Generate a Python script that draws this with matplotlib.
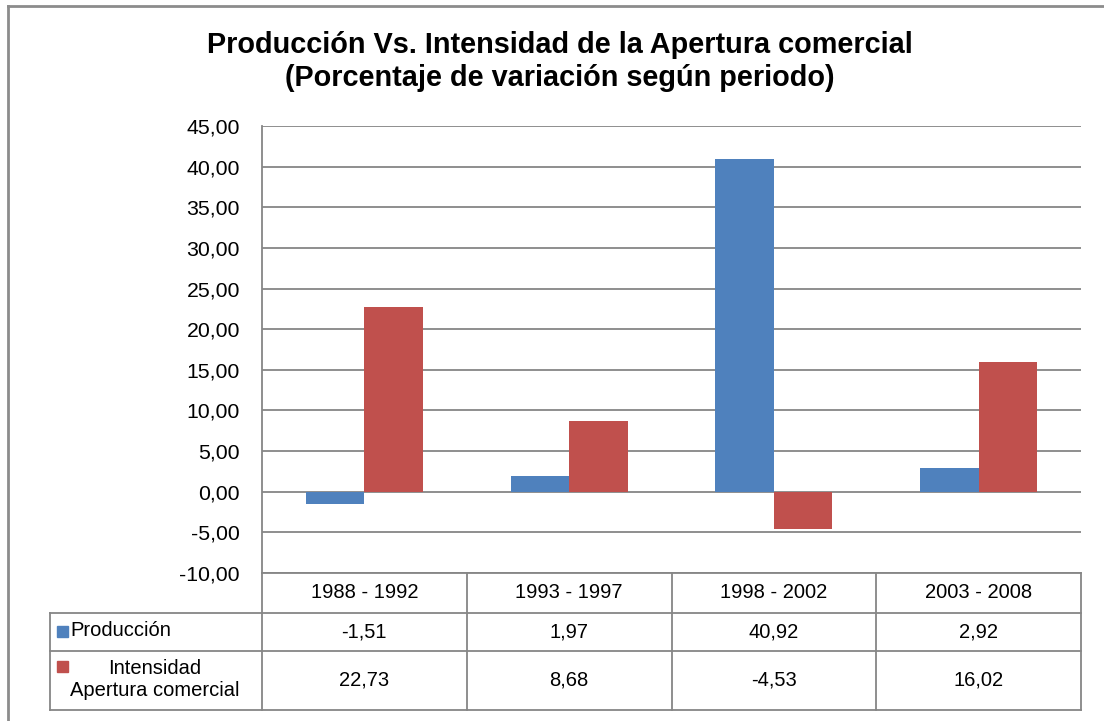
import matplotlib.pyplot as plt
from matplotlib.lines import Line2D
from matplotlib.patches import Rectangle

plt.rcParams['font.family'] = ['Liberation Sans', 'DejaVu Sans']

# Data
periods = ['1988 - 1992', '1993 - 1997', '1998 - 2002', '2003 - 2008']
produccion = [-1.51, 1.97, 40.92, 2.92]
apertura = [22.73, 8.68, -4.53, 16.02]
series_names = ['Producción', 'Intensidad\nApertura comercial']
colors = ['#4F81BD', '#C0504D']

W, H = 1104, 721
fig = plt.figure(figsize=(W / 100, H / 100), dpi=100)

# plot area in pixels
left, right, top, bottom = 262, 1081, 126, 573
ax = fig.add_axes([left / W, 1 - bottom / H, (right - left) / W, (bottom - top) / H])

x = range(len(periods))
bw = 1 / 3.5
ax.bar([i - bw / 2 for i in x], produccion, width=bw, color=colors[0], zorder=3)
ax.bar([i + bw / 2 for i in x], apertura, width=bw, color=colors[1], zorder=3)

ax.set_xlim(-0.5, 3.5)
ax.set_ylim(-10, 45)
ticks = list(range(-10, 50, 5))
ax.set_yticks(ticks)
ax.set_yticklabels([f'{t:.2f}'.replace('.', ',') for t in ticks], fontsize=15.3)
ax.tick_params(axis='y', length=0, pad=16)
ax.set_xticks([])
ax.yaxis.grid(True, color='#868686', linewidth=1.3, zorder=0)
for s in ['top', 'right', 'bottom']:
    ax.spines[s].set_visible(False)
ax.spines['left'].set_color('#868686')
ax.spines['left'].set_linewidth(1.3)

# title
fig.text(0.507, 1 - 45 / H, 'Producción Vs. Intensidad de la Apertura comercial',
         ha='center', va='center', fontsize=20.8, fontweight='bold')
fig.text(0.507, 1 - 78 / H, '(Porcentaje de variación según periodo)',
         ha='center', va='center', fontsize=20.8, fontweight='bold')

# data table under the axes (axes-fraction coordinates)
ph = bottom - top
pw = right - left
def fy(py):
    return (bottom - py) / ph
def fx(px):
    return (px - left) / pw

row_y = [fy(573), fy(613), fy(651), fy(710)]
lab_x = fx(50)
tc = '#868686'
kw = dict(transform=ax.transAxes, clip_on=False, color=tc, linewidth=1.3)
# horizontal lines
ax.add_line(Line2D([0, 1], [row_y[0], row_y[0]], **kw))
for yy in row_y[1:]:
    ax.add_line(Line2D([lab_x, 1], [yy, yy], **kw))
# vertical lines
ax.add_line(Line2D([lab_x, lab_x], [row_y[1], row_y[3]], **kw))
for i in range(5):
    xx = i / 4
    ax.add_line(Line2D([xx, xx], [row_y[0], row_y[3]], **kw))

fs = 14.5
# header
for i, p in enumerate(periods):
    ax.text((i + 0.5) / 4, (row_y[0] + row_y[1]) / 2, p, transform=ax.transAxes,
            ha='center', va='center', fontsize=fs)
# values
for r, vals in enumerate([produccion, apertura]):
    yc = (row_y[r + 1] + row_y[r + 2]) / 2
    for i, v in enumerate(vals):
        ax.text((i + 0.5) / 4, yc, f'{v:.2f}'.replace('.', ','), transform=ax.transAxes,
                ha='center', va='center', fontsize=fs)

# row labels with legend keys
sq = 11
ax.add_patch(Rectangle((fx(57), fy(637)), sq / pw, sq / ph, transform=ax.transAxes,
                       clip_on=False, color=colors[0]))
ax.text(fx(70), fy(631), series_names[0], transform=ax.transAxes,
        ha='left', va='center', fontsize=fs)
ax.add_patch(Rectangle((fx(57), fy(672)), sq / pw, sq / ph, transform=ax.transAxes,
                       clip_on=False, color=colors[1]))
ax.text(fx(155), fy(680), series_names[1], transform=ax.transAxes,
        ha='center', va='center', fontsize=fs, linespacing=1.2)

# outer chart border (left and top)
fig.add_artist(Line2D([8 / W, 8 / W], [0, 1 - 6 / H], transform=fig.transFigure,
                      color='#8c8c8c', linewidth=2))
fig.add_artist(Line2D([8 / W, 1], [1 - 6 / H, 1 - 6 / H], transform=fig.transFigure,
                      color='#8c8c8c', linewidth=2))

fig.savefig('out.png', dpi=100)
